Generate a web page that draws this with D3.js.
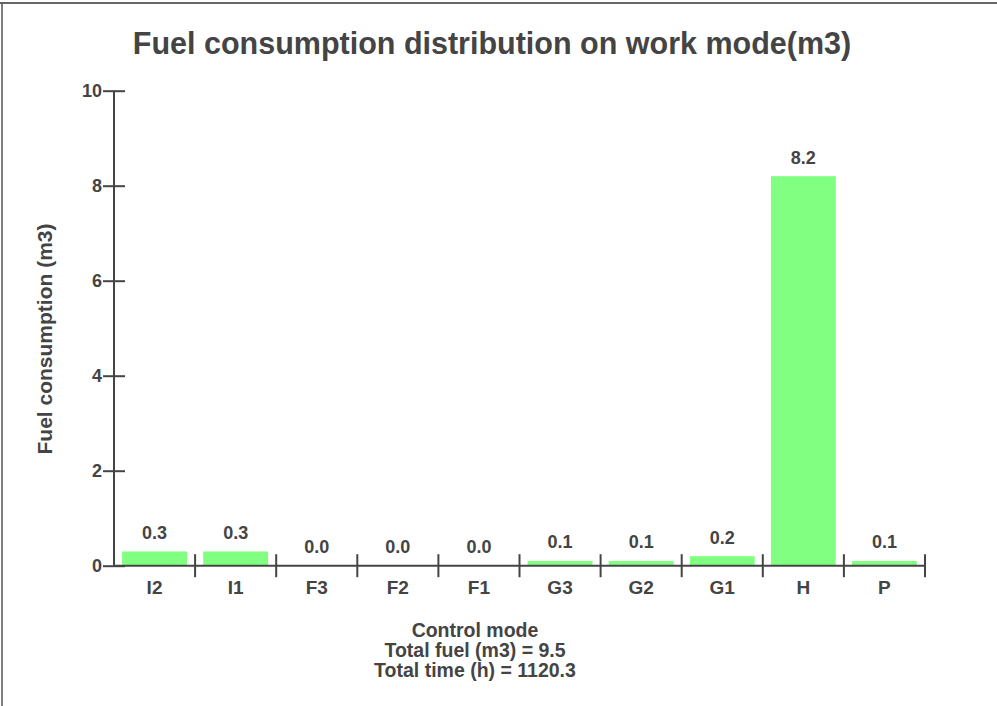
<!DOCTYPE html>
<html>
<head>
<meta charset="utf-8">
<script src="https://cdn.jsdelivr.net/npm/d3@7"></script>
<style>
	body { margin: 0; background: #fff; }
	svg text { font-family: "Liberation Sans", Arial, sans-serif; font-weight: bold; fill: #444; }
</style>
</head>
<body>
<div id="chart"></div>
<script>
// chart values
const modes = ["I2", "I1", "F3", "F2", "F1", "G3", "G2", "G1", "H", "P"];
const fuel = [0.3, 0.3, 0.0, 0.0, 0.0, 0.1, 0.1, 0.2, 8.2, 0.1];
const yTicks = [0, 2, 4, 6, 8, 10];
const titleText = "Fuel consumption distribution on work mode(m3)";
const yLabel = "Fuel consumption (m3)";
const footLines = ["Control mode", "Total fuel (m3) = 9.5", "Total time (h) = 1120.3"];

let width = 997;
let height = 706;
let ink = "#444";
let fs = "18px";

const svg = d3.select("#chart")
	.append("svg")
	.attr("width", width)
	.attr("height", height);

// frame (top + left only)
svg.append("line").attr("x1", 0).attr("x2", width).attr("y1", 3).attr("y2", 3)
	.attr("stroke", "#333").attr("stroke-width", 1.5);
svg.append("line").attr("x1", 2).attr("x2", 2).attr("y1", 3).attr("y2", height)
	.attr("stroke", "#555").attr("stroke-width", 1.5);

let x = d3.scaleBand()
	.domain(modes)
	.range([114, 925])
	.paddingInner(0.2)
	.paddingOuter(0.1);

let y = d3.scaleLinear()
	.domain([0, 10])
	.range([565.7, 90.7]);

svg.append("text")
	.attr("x", 492)
	.attr("y", 54)
	.attr("text-anchor", "middle")
	.style("font-size", "30.5px")
	.text(titleText);

// bars
svg.append("g")
	.selectAll("rect")
	.data(modes)
	.join("rect")
	.attr("x", d => x(d))
	.attr("width", x.bandwidth())
	.attr("y", (d, i) => y(fuel[i]))
	.attr("height", (d, i) => y(0) - y(fuel[i]))
	.attr("fill", "#80ff80");

// value labels
svg.append("g")
	.selectAll("text")
	.data(modes)
	.join("text")
	.attr("x", d => x(d) + x.bandwidth() / 2)
	.attr("y", (d, i) => y(fuel[i]) - 12.5)
	.attr("text-anchor", "middle")
	.style("font-size", fs)
	.text((d, i) => d3.format(".1f")(fuel[i]));

// y axis
const yAxis = svg.append("g")
	.attr("transform", `translate(${x.range()[0]},0)`)
	.call(d3.axisLeft(y).tickValues(yTicks).tickSize(11).tickPadding(1).tickFormat(d3.format("d")));
yAxis.select(".domain").attr("d", `M0,${y(0)}V${y(10)}`).attr("stroke", ink).attr("stroke-width", 2);
yAxis.selectAll(".tick line").attr("x1", -11).attr("x2", 11).attr("stroke", ink).attr("stroke-width", 2);
yAxis.selectAll(".tick text")
	.style("font-size", fs)
	.style("font-family", "'Liberation Sans', Arial, sans-serif")
	.attr("fill", ink);

// x axis: line plus ticks on band boundaries
const xAxis = svg.append("g");
xAxis.append("line")
	.attr("x1", x.range()[0]).attr("x2", x.range()[1])
	.attr("y1", y(0)).attr("y2", y(0))
	.attr("stroke", ink).attr("stroke-width", 2);
xAxis.selectAll(".xt")
	.data(modes)
	.join("line")
	.attr("class", "xt")
	.attr("x1", (d, i) => x.range()[0] + (i + 1) * x.step())
	.attr("x2", (d, i) => x.range()[0] + (i + 1) * x.step())
	.attr("y1", y(0) - 11.5).attr("y2", y(0) + 11.5)
	.attr("stroke", ink).attr("stroke-width", 2);
xAxis.selectAll("text")
	.data(modes)
	.join("text")
	.attr("x", (d, i) => x.range()[0] + (i + 0.5) * x.step())
	.attr("y", y(0) + 28.5)
	.attr("text-anchor", "middle")
	.style("font-size", "19px")
	.text(d => d);

// y label
svg.append("text")
	.attr("transform", "translate(52,339) rotate(-90)")
	.attr("text-anchor", "middle")
	.style("font-size", "21px")
	.text(yLabel);

// footer
svg.append("g")
	.selectAll("text")
	.data(footLines)
	.join("text")
	.attr("x", 475)
	.attr("y", (d, i) => 637 + i * 20)
	.attr("text-anchor", "middle")
	.style("font-size", "19.5px")
	.text(d => d);
</script>
</body>
</html>
